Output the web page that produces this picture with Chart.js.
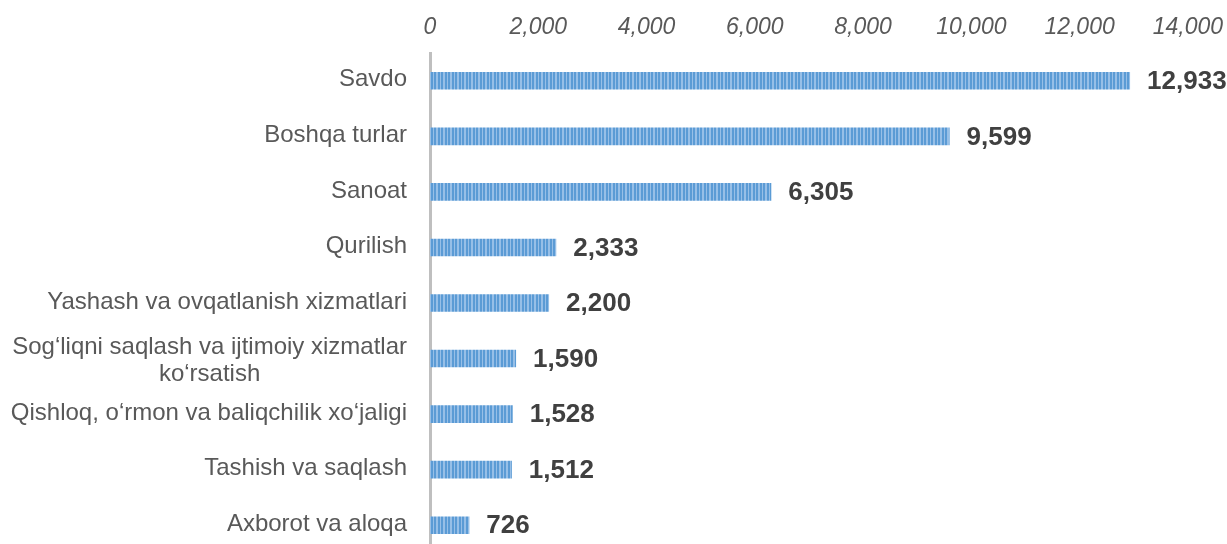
<!DOCTYPE html>
<html>
<head>
<meta charset="utf-8">
<script src="https://cdn.jsdelivr.net/npm/chart.js@4.4.0/dist/chart.umd.min.js"></script>
<style>
  html, body { margin: 0; padding: 0; background: #fff; overflow: hidden; }
  #wrap { position: relative; width: 1227px; height: 553px; }
</style>
</head>
<body>
<div id="wrap"><canvas id="sectorChart"></canvas></div>
<script>
// Data
const categories = [
  "Savdo",
  "Boshqa turlar",
  "Sanoat",
  "Qurilish",
  "Yashash va ovqatlanish xizmatlari",
  ["Sog‘liqni saqlash va ijtimoiy xizmatlar", "ko‘rsatish"],
  "Qishloq, o‘rmon va baliqchilik xo‘jaligi",
  "Tashish va saqlash",
  "Axborot va aloqa"
];
const values = [12933, 9599, 6305, 2333, 2200, 1590, 1528, 1512, 726];
const axisMax = 14000;
const axisStep = 2000;

// striped fill like the original bars
function makeStripes() {
  const c = document.createElement("canvas");
  c.width = 7;
  c.height = 4;
  const g = c.getContext("2d");
  g.fillStyle = "#5b9bd5";
  g.fillRect(0, 0, 7, 4);
  g.fillStyle = "#97bfe7";
  g.fillRect(2, 0, 2, 4);
  g.fillRect(6, 0, 1, 4);
  return g.createPattern(c, "repeat");
}

const fmt = v => v.toLocaleString("en-US");

// category labels (right aligned block, lines centred inside it) and value labels
const labelPlugin = {
  id: "labelPlugin",
  afterDatasetsDraw(chart) {
    const ctx = chart.ctx;
    const yScale = chart.scales.y;
    const meta = chart.getDatasetMeta(0);
    ctx.save();

    // category names
    ctx.font = "24px 'Liberation Sans', Arial, sans-serif";
    ctx.fillStyle = "#595959";
    ctx.textBaseline = "middle";
    ctx.textAlign = "center";
    const rightEdge = chart.chartArea.left - 23;
    const lineH = 27;
    categories.forEach((lab, i) => {
      const lines = Array.isArray(lab) ? lab : [lab];
      const w = Math.max(...lines.map(l => ctx.measureText(l).width));
      const cx = rightEdge - w / 2;
      const yc = yScale.getPixelForTick(i) - 1 + (lines.length > 1 ? 3 : 0);
      const y0 = yc - (lines.length - 1) * lineH / 2;
      lines.forEach((l, k) => ctx.fillText(l, cx, y0 + k * lineH));
    });

    // values at bar ends
    ctx.font = "bold 26px 'Liberation Sans', Arial, sans-serif";
    ctx.fillStyle = "#404040";
    ctx.textAlign = "left";
    meta.data.forEach((bar, i) => {
      ctx.fillText(fmt(values[i]), bar.x + 17, bar.y + 1);
    });
    ctx.restore();
  }
};

const ctx = document.getElementById("sectorChart").getContext("2d");
const chart = new Chart(ctx, {
  type: "bar",
  data: {
    labels: categories,
    datasets: [{
      data: values,
      backgroundColor: makeStripes(),
      borderWidth: 0,
      barPercentage: 1,
      categoryPercentage: 0.317
    }]
  },
  options: {
    indexAxis: "y",
    responsive: true,
    maintainAspectRatio: false,
    animation: false,
    layout: { padding: { left: 0, right: 32, top: 0, bottom: 0 } },
    scales: {
      x: {
        position: "top",
        min: 0,
        max: axisMax,
        grid: { display: false },
        border: { display: false },
        ticks: {
          stepSize: axisStep,
          padding: 4,
          color: "#595959",
          font: { family: "'Liberation Sans', Arial, sans-serif", size: 23, style: "italic" },
          callback: v => fmt(v)
        },
        afterFit: s => { s.height = 53; }
      },
      y: {
        grid: { display: true, drawOnChartArea: false, drawTicks: false, color: "rgba(0,0,0,0)" },
        border: { display: true, color: "#bfbfbf", width: 3 },
        ticks: { display: false },
        afterFit: s => { s.width = 430; }
      }
    },
    plugins: {
      legend: { display: false },
      tooltip: { enabled: false }
    }
  },
  plugins: [labelPlugin]
});
</script>
</body>
</html>
